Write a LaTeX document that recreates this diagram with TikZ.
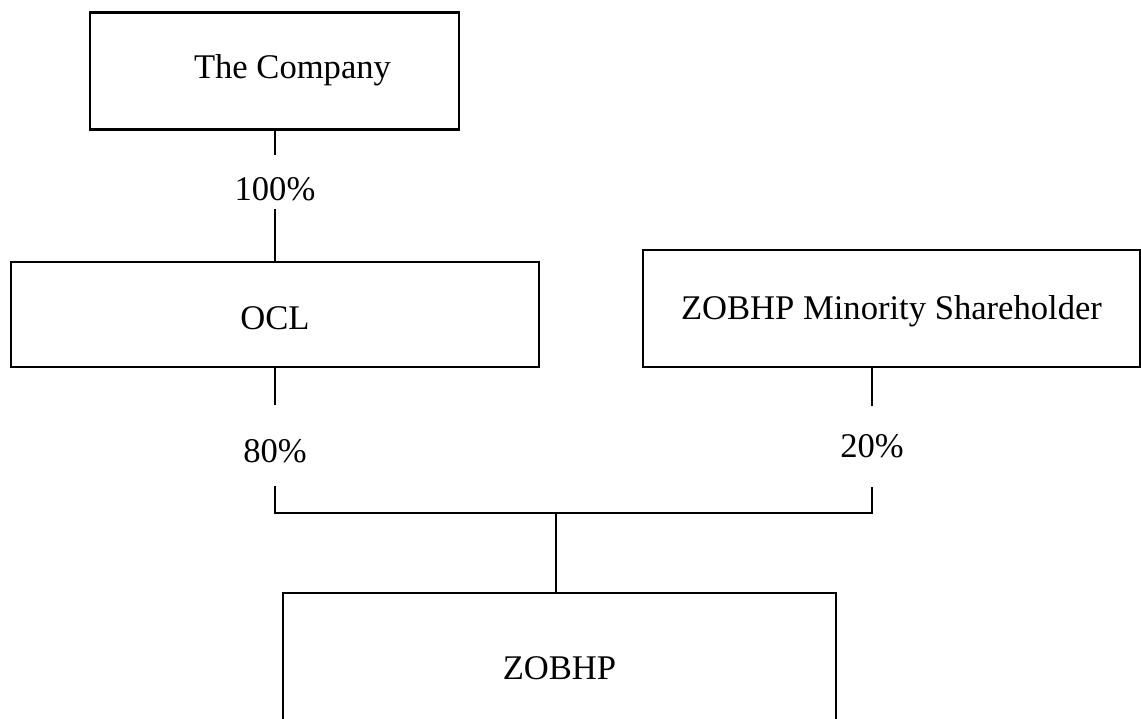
\documentclass[tikz,border=0pt]{standalone}
\usepackage{fontspec}
\setmainfont{Liberation Serif}

\tikzset{
  entity/.style={draw, line width=2.5pt, inner sep=0pt, text height=23pt, text depth=0pt},
  share/.style={inner sep=0pt, anchor=base},
  link/.style={line width=2pt}
}

\begin{document}
\begin{tikzpicture}[x=1pt, y=-1pt, font=\fontsize{34.6pt}{40pt}\selectfont]
\clip (0,0) rectangle (1141,719);

% the companies
\node[entity, minimum width=369pt, minimum height=117pt, text depth=8pt] (company) at (274.5,71) {\hspace*{36pt}The Company};
\node[entity, minimum width=528pt, minimum height=105pt, text height=30pt] (ocl) at (275,314.5) {OCL};
\node[entity, minimum width=497pt, minimum height=117pt] (minority) at (891.5,308.5) {ZOBHP Minority Shareholder};
\node[entity, minimum width=553pt, minimum height=149pt] (zobhp) at (559.5,667.5) {ZOBHP};

% the holdings
\node[share, text height=46pt, text depth=8pt] (p100) at (275,201) {100\%};
\node[share, text height=57pt, text depth=24pt] (p80) at (275,462) {80\%};
\node[share, text height=51pt, text depth=30pt] (p20) at (872,457) {20\%};

% the lines
\coordinate (joint) at (556,513);
\draw[link] (company.south -| p100.north) -- (p100.north);
\draw[link] (p100.south) -- (ocl.north -| p100.south);
\draw[link] (ocl.south -| p80.north) -- (p80.north);
\draw[link] (minority.south -| p20.north) -- (p20.north);
\draw[link] (p80.south) |- (joint) -| (p20.south);
\draw[link] (joint) -- (joint |- zobhp.north);
\end{tikzpicture}
\end{document}
